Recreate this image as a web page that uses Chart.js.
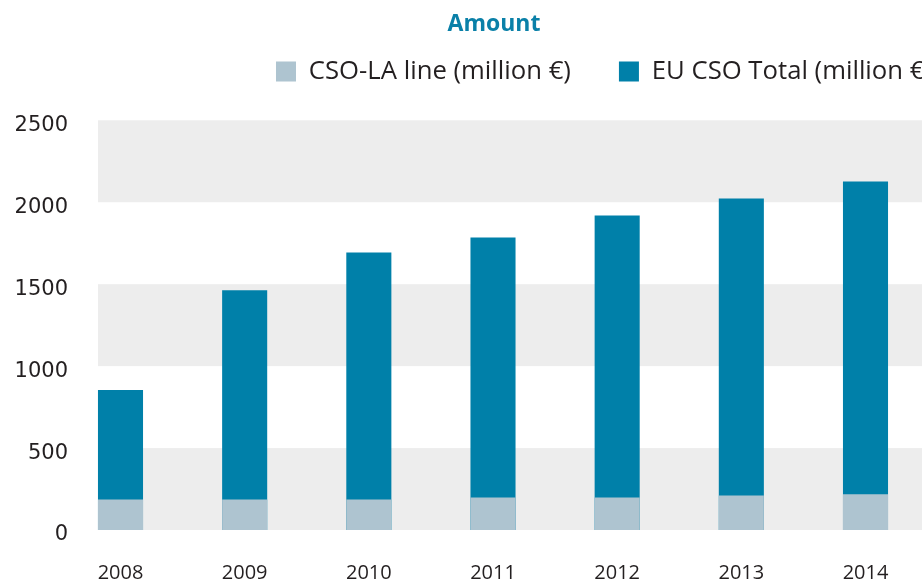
<!DOCTYPE html>
<html>
<head>
<meta charset="utf-8">
<script src="https://cdn.jsdelivr.net/npm/chart.js@4/dist/chart.umd.min.js"></script>
<style>
  html, body { margin: 0; padding: 0; background: #fff; overflow: hidden; }
  #wrap { position: relative; width: 930px; height: 583px; }
</style>
</head>
<body>
<div id="wrap"><canvas id="chart"></canvas></div>
<script>
// datos
var years = ['2008', '2009', '2010', '2011', '2012', '2013', '2014'];
var csoLaLine = [186, 186, 186, 198, 198, 210, 218];
var euCsoTotal = [855, 1463, 1694, 1785, 1919, 2023, 2126];
var yTicks = [0, 500, 1000, 1500, 2000, 2500];

var textColor = '#231f20';

// franjas grises detras de las barras, empiezan en el borde de la primera barra
var bandsPlugin = {
  id: 'bands',
  beforeDatasetsDraw: function(chart) {
    var ctx = chart.ctx;
    var y = chart.scales.y;
    var bar = chart.getDatasetMeta(1).data[0];
    var left = bar.x - bar.width / 2;
    ctx.save();
    ctx.fillStyle = '#ededed';
    for (var i = 0; i < yTicks.length - 1; i += 2) {
      var top = y.getPixelForValue(yTicks[i + 1]);
      var bottom = y.getPixelForValue(yTicks[i]);
      ctx.fillRect(left, top, chart.width - left, bottom - top);
    }
    ctx.restore();
  }
};

// ajustes de posicion del titulo y la leyenda (el original esta cortado a la derecha)
var layoutFixPlugin = {
  id: 'layoutFix',
  beforeInit: function(chart) {
    var legendFit = chart.legend.fit;
    chart.legend.fit = function() {
      legendFit.call(this);
      this.height -= 7;
    };
  },
  afterLayout: function(chart) {
    var t = chart.titleBlock;
    t.left = 0;
    t.right = 988;
    t.width = 988;
    var l = chart.legend;
    l.left = 0;
    l.right = 980;
    l.width = 980;
    l.top -= 33;
    l.bottom -= 33;
  }
};

var canvas = document.getElementById('chart');
var ctx = canvas.getContext('2d');

canvas.chart = new Chart(ctx, {
  type: 'bar',
  data: {
    labels: years,
    datasets: [
      {
        label: 'CSO-LA line (million €)',
        data: csoLaLine,
        backgroundColor: '#aec4d0',
        grouped: false,
        clip: false,
        barPercentage: 0.363,
        categoryPercentage: 1
      },
      {
        label: 'EU CSO Total (million €)',
        data: euCsoTotal,
        backgroundColor: '#0080a9',
        grouped: false,
        clip: false,
        barPercentage: 0.363,
        categoryPercentage: 1
      }
    ]
  },
  options: {
    responsive: true,
    maintainAspectRatio: false,
    animation: false,
    layout: {
      padding: { left: 0, right: 64.5, top: 0, bottom: 0 }
    },
    plugins: {
      title: {
        display: true,
        text: 'Amount',
        color: '#0a80a8',
        font: { family: 'Open Sans', size: 23, weight: 'bold' },
        padding: { top: 11, bottom: 5 }
      },
      legend: {
        align: 'end',
        labels: {
          color: textColor,
          font: { family: 'Open Sans', size: 25.7 },
          boxWidth: 20,
          boxHeight: 20,
          padding: 48
        }
      },
      tooltip: { enabled: false }
    },
    scales: {
      x: {
        offset: false,
        grid: { display: false, drawTicks: false },
        border: { display: false },
        afterFit: function(scale) {
          scale.height = 53;
          scale.paddingLeft = 0;
          scale.paddingRight = 0;
        },
        ticks: {
          color: textColor,
          font: { family: 'Open Sans', size: 20 },
          padding: 31
        }
      },
      y: {
        min: 0,
        max: 2500,
        grid: { display: false, drawTicks: false },
        border: { display: false },
        afterFit: function(scale) {
          scale.width = 120.5;
          scale.paddingTop = 0;
          scale.paddingBottom = 0;
        },
        ticks: {
          stepSize: 500,
          color: textColor,
          font: { family: 'DejaVu Sans', size: 21 },
          padding: 52.5,
          labelOffset: 5,
          callback: function(value) {
            return String(value);
          }
        }
      }
    }
  },
  plugins: [bandsPlugin, layoutFixPlugin]
});
</script>
</body>
</html>
